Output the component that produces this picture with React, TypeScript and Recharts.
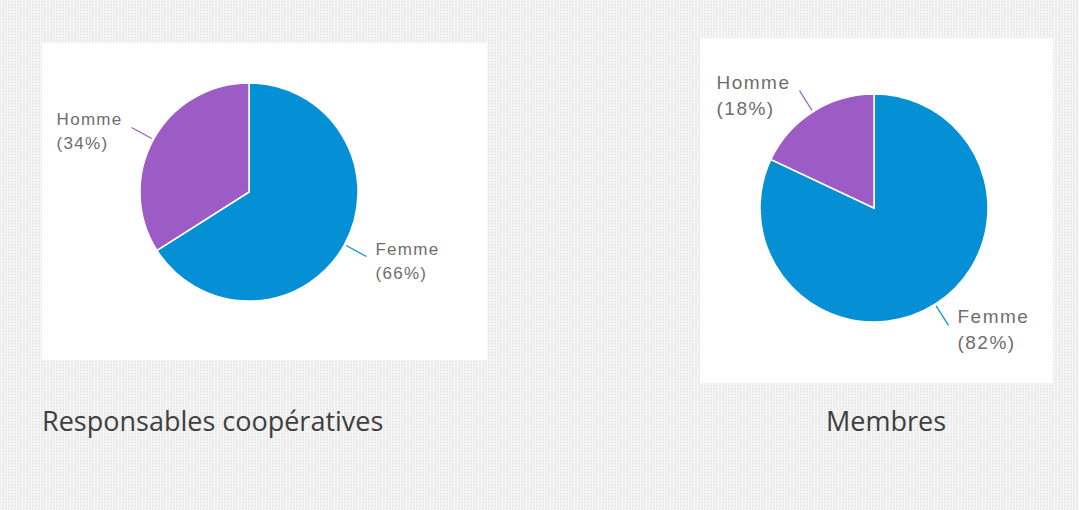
import React from "react";
import { Pie, PieChart, Cell } from "recharts";

const genders = ["Femme", "Homme"];
const responsablesShares = [66, 34];
const membresShares = [82, 18];
const captions = ["Responsables coopératives", "Membres"];

const COLORS = ["#0590d6", "#9d5cc5"];
const RAD = Math.PI / 180;

function buildRows(shares: number[]) {
  return genders.map((g, i) => ({ name: g, value: shares[i] }));
}

let measureCtx: CanvasRenderingContext2D | null = null;
function textWidth(s: string, size: number, spacing: number) {
  if (!measureCtx) {
    measureCtx = document.createElement("canvas").getContext("2d");
  }
  if (!measureCtx) return s.length * size * 0.6;
  measureCtx.font = `${size}px 'Liberation Sans', Arial, sans-serif`;
  return measureCtx.measureText(s).width + s.length * spacing;
}

function makeLabel(size: number, spacing: number, lineGap: number) {
  return (props: any) => {
    const { cx, cy, midAngle, outerRadius, name, value } = props;
    const cos = Math.cos(-midAngle * RAD);
    const sin = Math.sin(-midAngle * RAD);
    const ex = cx + (outerRadius + 25) * cos;
    const ey = cy + (outerRadius + 25) * sin;
    const right = cos >= 0;
    const second = `(${value}%)`;
    const block = Math.max(textWidth(name, size, spacing), textWidth(second, size, spacing));
    const x = right ? ex + 9 : ex - 9 - block;
    return (
      <text
        x={x}
        y={ey - 2}
        textAnchor="start"
        fill="#6e6e6e"
        fontFamily="'Liberation Sans', Arial, sans-serif"
        fontSize={size}
        letterSpacing={spacing}
      >
        <tspan x={x} dy={0}>{name}</tspan>
        <tspan x={x} dy={lineGap}>{second}</tspan>
      </text>
    );
  };
}

function renderLine(props: any) {
  const { cx, cy, midAngle, outerRadius, index } = props;
  const cos = Math.cos(-midAngle * RAD);
  const sin = Math.sin(-midAngle * RAD);
  return (
    <line
      x1={cx + (outerRadius + 2) * cos}
      y1={cy + (outerRadius + 2) * sin}
      x2={cx + (outerRadius + 25) * cos}
      y2={cy + (outerRadius + 25) * sin}
      stroke={COLORS[index]}
      strokeWidth={1.2}
    />
  );
}

function PiePanel({ shares, width, height, cx, cy, r, fontSize, spacing, lineGap }: any) {
  const rows = buildRows(shares);
  return (
    <PieChart
      width={width}
      height={height}
      margin={{ top: 0, right: 0, bottom: 0, left: 0 }}
      style={{ background: "#ffffff" }}
    >
      <Pie
        data={rows}
        dataKey="value"
        nameKey="name"
        cx={cx}
        cy={cy}
        outerRadius={r}
        startAngle={90}
        endAngle={-270}
        stroke="#ffffff"
        strokeWidth={1.5}
        label={makeLabel(fontSize, spacing, lineGap)}
        labelLine={renderLine}
        isAnimationActive={false}
      >
        {rows.map((row, i) => (
          <Cell key={row.name} fill={COLORS[i]} />
        ))}
      </Pie>
    </PieChart>
  );
}

const captionStyle: React.CSSProperties = {
  position: "absolute",
  fontFamily: "'Open Sans', 'Noto Sans', sans-serif",
  fontSize: 27,
  color: "#3f3f3f",
  lineHeight: "30px",
  whiteSpace: "nowrap",
};

export default function App() {
  return (
    <div
      style={{
        position: "absolute",
        left: 0,
        top: 0,
        width: 1079,
        height: 510,
        overflow: "hidden",
        backgroundColor: "#f0f0f0",
        backgroundImage:
          "repeating-conic-gradient(#f7f7f7 0 25%, #e9e9e9 0 50%)",
        backgroundSize: "3px 3px",
      }}
    >
      <div style={{ position: "absolute", left: 42, top: 43 }}>
        <PiePanel
          shares={responsablesShares}
          width={445}
          height={317}
          cx={207}
          cy={149}
          r={109}
          fontSize={17}
          spacing={1.3}
          lineGap={24}
        />
      </div>
      <div style={{ position: "absolute", left: 700, top: 38 }}>
        <PiePanel
          shares={membresShares}
          width={353}
          height={345}
          cx={174}
          cy={170}
          r={114}
          fontSize={19}
          spacing={1.5}
          lineGap={26}
        />
      </div>
      <div style={{ ...captionStyle, left: 42, top: 406 }}>{captions[0]}</div>
      <div style={{ ...captionStyle, left: 826, top: 406 }}>{captions[1]}</div>
    </div>
  );
}
